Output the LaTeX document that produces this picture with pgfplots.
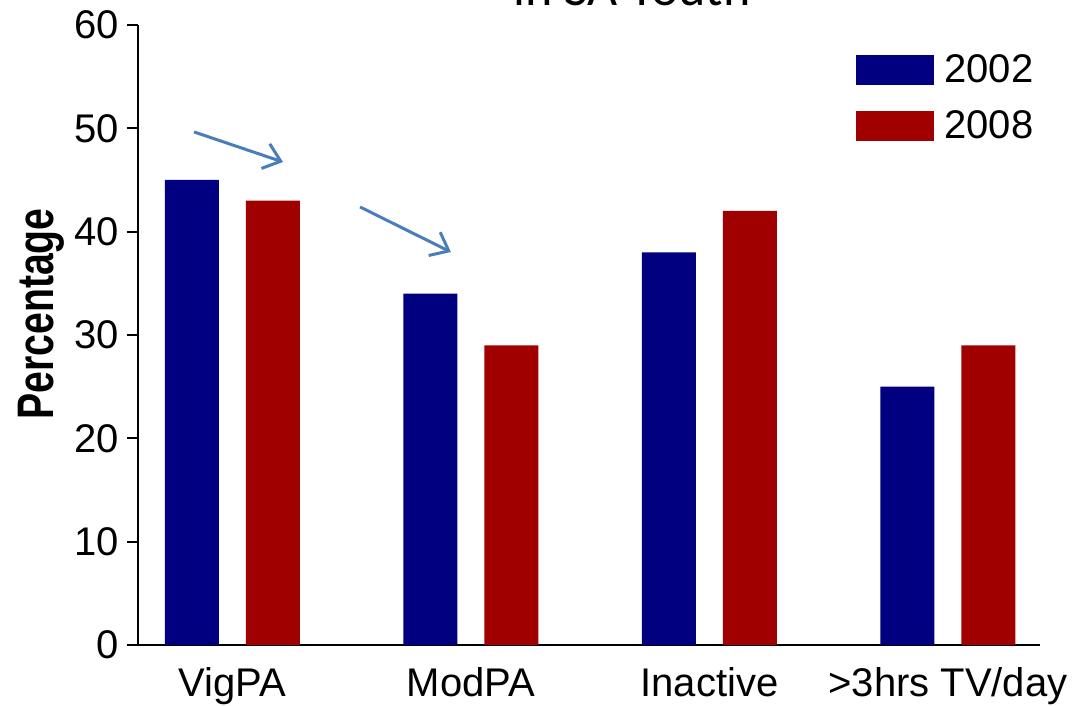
\documentclass[border=0pt]{standalone}
\usepackage{pgfplots}
\pgfplotsset{compat=1.18}
\usepackage{fontspec}
\setmainfont{Liberation Sans}
\newfontfamily\titlefont{Carlito}
\usetikzlibrary{arrows.meta}
\definecolor{bartwo}{RGB}{0,0,128}
\definecolor{bareight}{RGB}{160,0,0}
\definecolor{arrowblue}{RGB}{74,126,187}
\pgfplotsset{
  blockleg/.style={legend image code/.code={\fill[##1] (0pt,-0.5pt) rectangle (39pt,14.5pt);}},
}

\begin{document}
\begin{tikzpicture}
\begin{axis}[
  at={(69pt,30.5pt)}, anchor=south west,
  scale only axis, width=451pt, height=310pt,
  xmin=-0.396, xmax=3.386, ymin=0, ymax=60,
  axis x line*=bottom, axis y line*=left,
  axis line style={line width=1pt, -},
  ytick={0,10,...,60},
  xtick={0,1,2,3},
  xticklabels={VigPA, ModPA, Inactive, {>3hrs TV/day}},
  tick align=outside, ytick pos=left,
  major tick length=5.5pt,
  y tick style={line width=1pt, black},
  x tick style={draw=none},
  xticklabel style={anchor=base, yshift=-20.5pt, font=\fontsize{20}{24}\selectfont},
  yticklabel style={font=\fontsize{20}{24}\selectfont, inner sep=4pt},
  /pgf/number format/assume math mode=true,
  ylabel={\scalebox{1}[1.31]{\bfseries\fontsize{19.6}{24}\selectfont Percentage}},
  ylabel style={at={(axis description cs:-0.1075,0.534)}, anchor=center},
  legend style={at={(rel axis cs:0.796,0.953)}, anchor=north west,
    draw=none, fill=none, inner sep=0pt, row sep=12.5pt, column sep=5pt,
    nodes={inner sep=0pt}, font=\fontsize{20}{24}\selectfont},
  legend cell align=left,
]
\addplot[ybar, bar width=27pt, bar shift=-20.25pt, fill=bartwo, draw=none, blockleg]
  coordinates {(0,45) (1,34) (2,38) (3,25)};
\addlegendentry[yshift=7pt]{2002}
\addplot[ybar, bar width=27pt, bar shift=20.25pt, fill=bareight, draw=none, blockleg]
  coordinates {(0,43) (1,29) (2,42) (3,29)};
\addlegendentry[yshift=7pt]{2008}
% downward-trend arrows over the activity categories
\draw[arrowblue, line width=1.5pt, -{Straight Barb[length=8pt, width=13pt, line width=1.5pt]}]
  (axis cs:-0.161,49.65) -- (axis cs:0.212,46.74);
\draw[arrowblue, line width=1.5pt, -{Straight Barb[length=8pt, width=13pt, line width=1.5pt]}]
  (axis cs:0.535,42.39) -- (axis cs:0.916,38.03);
\end{axis}
\node[anchor=base, font=\titlefont\fontsize{26}{30}\selectfont] at (316pt,350pt) {in SA Youth};
\pgfresetboundingbox
\path[use as bounding box] (0pt,0pt) rectangle (544pt,353pt);
\end{tikzpicture}
\end{document}
